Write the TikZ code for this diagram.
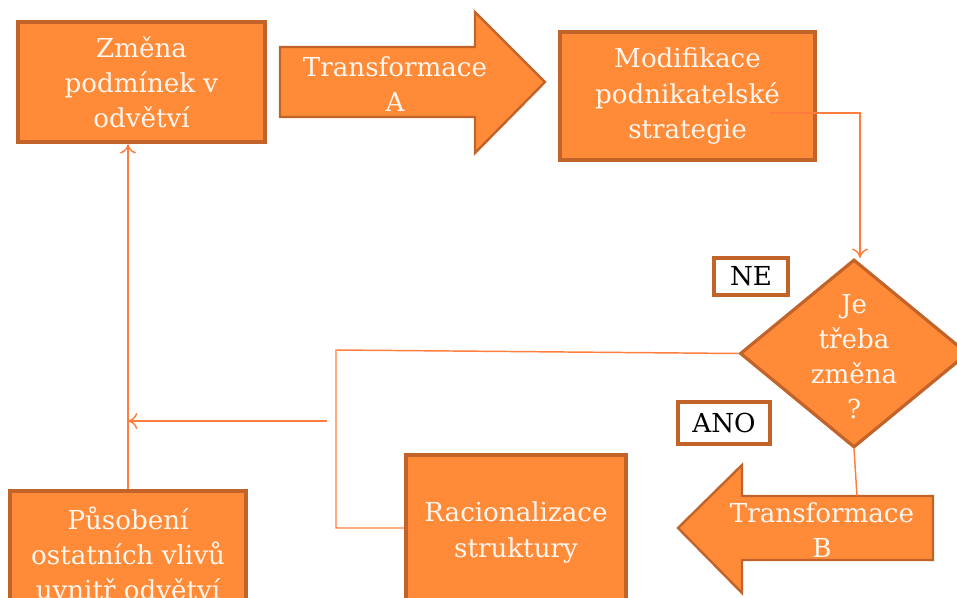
\documentclass[tikz,border=0pt]{standalone}
\usepackage{fontspec}
\setmainfont{DejaVu Serif}
\usetikzlibrary{shapes.geometric,arrows.meta}
\definecolor{fillor}{HTML}{FF8A38}
\definecolor{edgeor}{HTML}{C2642A}
\definecolor{lineor}{HTML}{FF7E3E}
\definecolor{txtc}{HTML}{FFF6EE}
\begin{document}
\begin{tikzpicture}[x=0.75pt,y=-0.75pt,
  box/.style={draw=edgeor,fill=fillor,line width=3.3pt,text=txtc,align=center,inner sep=0pt,font=\fontsize{19.6}{26.3}\selectfont},
  lbl/.style={draw=edgeor,fill=white,line width=2.4pt,text=black,inner sep=0pt,font=\fontsize{19.6}{26.3}\selectfont},
  bigarrow/.style={draw=edgeor,fill=fillor,line width=1.8pt,line join=miter},
  atext/.style={text=txtc,align=center,inner sep=0pt,font=\fontsize{19.6}{26.3}\selectfont},
  conn/.style={draw=lineor,line width=1.1pt},
  tipx/.style={-{To[length=7pt,width=12pt]}}]
\useasboundingbox (0,0) rectangle (957,598);
% boxes
\node[box,minimum width=185.25pt,minimum height=90pt] (b1) at (141.5,82) {Změna\\podmínek v\\odvětví};
\node[box,minimum width=191.25pt,minimum height=96pt] (b2) at (687.5,96) {Modifikace\\podnikatelské\\strategie};
\node[box,minimum width=177pt,minimum height=93pt] (pus) at (128,553) {Působení\\ostatních vlivů\\uvnitř odvětví};
\node[box,minimum width=165pt,minimum height=116.25pt] (rac) at (516,532.5) {Racionalizace\\struktury};
\node[box,diamond,line width=2.4pt,minimum width=171pt,minimum height=141pt] (dia) at (854,353.5) {};
\node[atext] (diat) at (854,357) {Je\\třeba\\změna\\?};
\node[lbl,minimum width=55.5pt,minimum height=27.75pt] (ne) at (751,276.5) {NE};
\node[lbl,minimum width=69pt,minimum height=31.5pt] (ano) at (724,423) {ANO};
% big arrows
\draw[bigarrow] (280,47) -- (475,47) -- (475,12) -- (545,82) -- (475,153) -- (475,117) -- (280,117) -- cycle;
\node[atext] (ta) at (395,84) {Transformace\\A};
\draw[bigarrow] (933,496) -- (742,496) -- (742,465) -- (678,528) -- (742,593) -- (742,560) -- (933,560) -- cycle;
\node[atext] (tb) at (822,530) {Transformace\\B};
\coordinate (btop) at (857,496);
% connectors
\coordinate (s2) at (770,113);
\draw[conn,tipx] (s2) -- (860,113) -- (dia.north -| 860,0);
\draw[conn] (dia.west) -- (336,350) -- (336,528) -- (rac.west |- 0,528);
\coordinate (fb) at (327,421);
\draw[conn,tipx] (fb) -- (pus.north |- fb);
\draw[conn,tipx] (pus.north) -- (pus.north |- b1.south);
\draw[conn] (dia.south) -- (btop);
\end{tikzpicture}
\end{document}
